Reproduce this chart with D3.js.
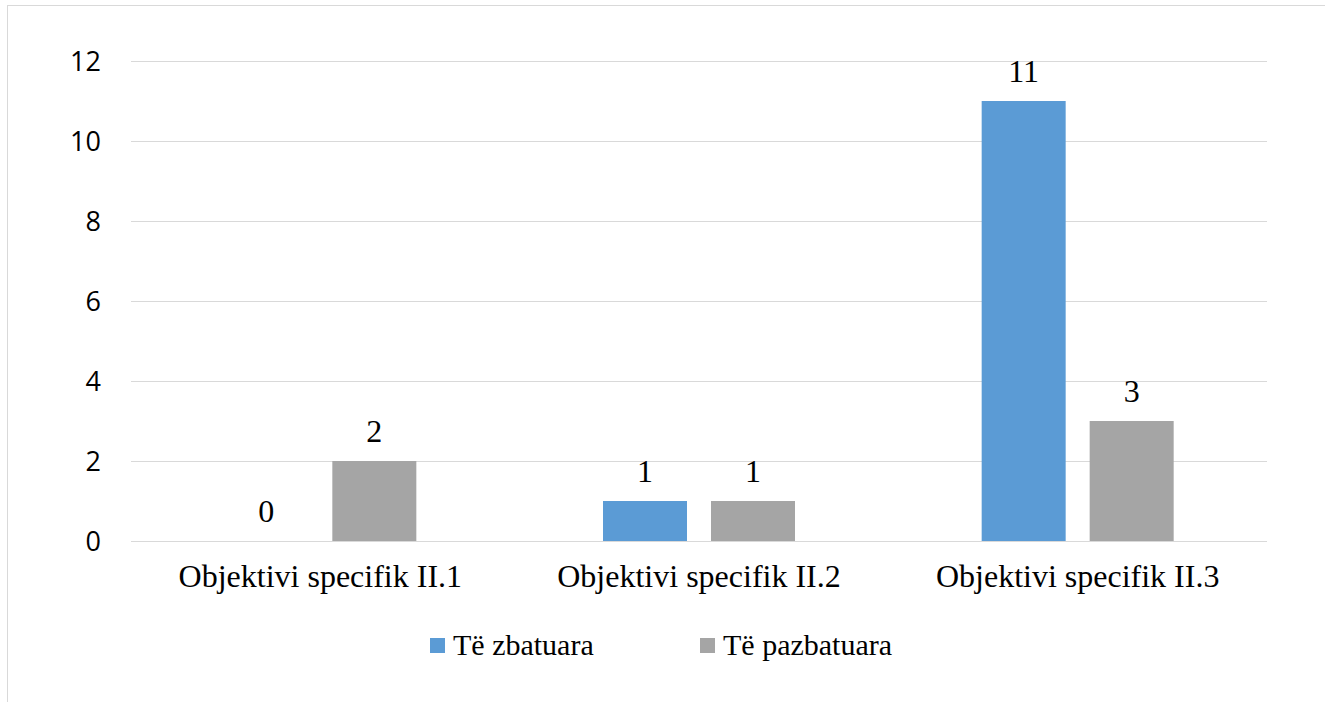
<!DOCTYPE html>
<html>
<head>
<meta charset="utf-8">
<script src="https://cdn.jsdelivr.net/npm/d3@7"></script>
<style>
  body { margin: 0; background: #fff; }
</style>
</head>
<body>
<svg width="1325" height="702"></svg>
<script>
const categories = ['Objektivi specifik II.1', 'Objektivi specifik II.2', 'Objektivi specifik II.3'];
const seriesNames = ['Të zbatuara', 'Të pazbatuara'];
const zbatuara = [0, 1, 11];
const pazbatuara = [2, 1, 3];
const yTicks = [0, 2, 4, 6, 8, 10, 12];
const colors = ['#5b9bd5', '#a5a5a5'];

const svg = d3.select('svg');

// chart border
svg.append('rect')
    .attr('x', 7.5).attr('y', 5.5)
    .attr('width', 1330).attr('height', 710)
    .attr('fill', 'none').attr('stroke', '#d9d9d9');

const plotLeft = 131, plotRight = 1267, plotTop = 61, plotBottom = 541;

const x = d3.scaleBand().domain(categories).range([plotLeft, plotRight]);
const x1 = d3.scaleBand().domain([0, 1]).range([-96, 96]).paddingInner(0.2222);
const y = d3.scaleLinear().domain([0, 12]).range([plotBottom, plotTop]);

// gridlines
svg.append('g').selectAll('line')
    .data(yTicks)
    .enter().append('line')
      .attr('x1', plotLeft).attr('x2', plotRight)
      .attr('y1', function(d) { return y(d) + 0.5; })
      .attr('y2', function(d) { return y(d) + 0.5; })
      .attr('stroke', '#d9d9d9').attr('stroke-width', 1);

// y axis labels
svg.append('g').selectAll('text')
    .data(yTicks)
    .enter().append('text')
      .attr('x', 101)
      .attr('y', function(d) { return y(d) + 10; })
      .attr('text-anchor', 'end')
      .attr('font-family', '"Open Sans", Carlito, Lato, sans-serif')
      .attr('font-size', 27)
      .attr('fill', '#000')
      .text(function(d) { return d; });

const rows = [];
categories.forEach(function(c, i) {
  rows.push({ cat: c, s: 0, v: zbatuara[i] });
  rows.push({ cat: c, s: 1, v: pazbatuara[i] });
});

function cx(d) { return x(d.cat) + x.bandwidth() / 2 + x1(d.s); }

svg.append('g').selectAll('rect')
    .data(rows)
    .enter().append('rect')
      .attr('x', cx)
      .attr('y', function(d) { return y(d.v); })
      .attr('width', x1.bandwidth())
      .attr('height', function(d) { return y(0) - y(d.v); })
      .attr('fill', function(d) { return colors[d.s]; });

// data labels
svg.append('g').selectAll('text')
    .data(rows)
    .enter().append('text')
      .attr('x', function(d) { return cx(d) + x1.bandwidth() / 2; })
      .attr('y', function(d) { return y(d.v) - 19; })
      .attr('text-anchor', 'middle')
      .attr('font-family', '"Liberation Serif", "Times New Roman", serif')
      .attr('font-size', 32)
      .attr('fill', '#000')
      .text(function(d) { return d.v; });

// category labels
svg.append('g').selectAll('text')
    .data(categories)
    .enter().append('text')
      .attr('x', function(d) { return x(d) + x.bandwidth() / 2; })
      .attr('y', 587)
      .attr('text-anchor', 'middle')
      .attr('font-family', '"Liberation Serif", "Times New Roman", serif')
      .attr('font-size', 32)
      .attr('fill', '#000')
      .text(function(d) { return d; });

// legend
const legendX = [430, 700];
const legend = svg.append('g').selectAll('g')
    .data(seriesNames)
    .enter().append('g')
      .attr('transform', function(d, i) { return 'translate(' + legendX[i] + ',638)'; });
legend.append('rect')
    .attr('width', 15).attr('height', 15)
    .attr('fill', function(d, i) { return colors[i]; });
legend.append('text')
    .attr('x', 23).attr('y', 17)
    .attr('font-family', '"Liberation Serif", "Times New Roman", serif')
    .attr('font-size', 30)
    .attr('fill', '#000')
    .text(function(d) { return d; });
</script>
</body>
</html>
